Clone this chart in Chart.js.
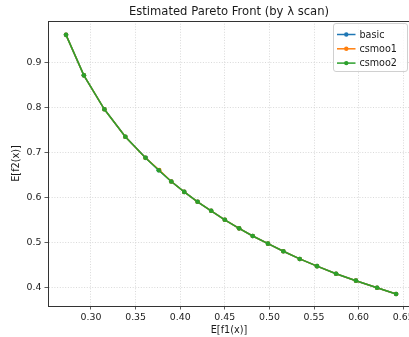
<!DOCTYPE html>
<html>
<head>
<meta charset="utf-8">
<script src="https://cdn.jsdelivr.net/npm/chart.js@4"></script>
<style>
  html, body { margin: 0; padding: 0; overflow: hidden; background: #fff; }
  #wrap { width: 409px; height: 337px; overflow: hidden; }
</style>
</head>
<body>
<div id="wrap"><canvas id="c" width="420" height="337"></canvas></div>
<script>
// ---- data ----
const seriesNames = ["basic", "csmoo1", "csmoo2"];
const seriesColors = ["#1f77b4", "#ff7f0e", "#2ca02c"];

const basicX  = [0.272, 0.292, 0.315, 0.3385, 0.3615, 0.376, 0.390, 0.4045, 0.4195, 0.4347, 0.450, 0.466, 0.4813, 0.4984, 0.5156, 0.534, 0.5534, 0.5747, 0.597, 0.6207, 0.642];
const basicY  = [0.961, 0.871, 0.7956, 0.7347, 0.6875, 0.660, 0.635, 0.612, 0.590, 0.570, 0.550, 0.531, 0.514, 0.497, 0.480, 0.463, 0.447, 0.430, 0.4147, 0.399, 0.385];
const csmoo1X = [0.272, 0.292, 0.315, 0.3385, 0.361, 0.3765, 0.390, 0.4045, 0.4195, 0.4347, 0.450, 0.466, 0.4813, 0.4984, 0.5156, 0.534, 0.5534, 0.5747, 0.597, 0.6207, 0.642];
const csmoo1Y = [0.961, 0.871, 0.7956, 0.7347, 0.688, 0.6605, 0.635, 0.612, 0.590, 0.570, 0.550, 0.531, 0.514, 0.497, 0.480, 0.463, 0.447, 0.430, 0.4147, 0.399, 0.385];
const csmoo2X = [0.272, 0.292, 0.315, 0.3385, 0.361, 0.376, 0.390, 0.4045, 0.4195, 0.4347, 0.450, 0.466, 0.4813, 0.4984, 0.5156, 0.534, 0.5534, 0.5747, 0.597, 0.6207, 0.642];
const csmoo2Y = [0.961, 0.871, 0.7956, 0.7347, 0.688, 0.660, 0.635, 0.612, 0.590, 0.570, 0.550, 0.531, 0.514, 0.497, 0.480, 0.463, 0.447, 0.430, 0.4147, 0.399, 0.385];

const xTicks = [0.30, 0.35, 0.40, 0.45, 0.50, 0.55, 0.60, 0.65];
const yTicks = [0.4, 0.5, 0.6, 0.7, 0.8, 0.9];

const titleText = "Estimated Pareto Front (by λ scan)";
const xLabel = "E[f1(x)]";
const yLabel = "E[f2(x)]";

// ---- build chart ----
const FONT = "'DejaVu Sans', sans-serif";
const TXT = "#1a1a1a";

function pts(xs, ys) { return xs.map((x, i) => ({ x: x, y: ys[i] })); }
const allX = [basicX, csmoo1X, csmoo2X];
const allY = [basicY, csmoo1Y, csmoo2Y];

const datasets = seriesNames.map((name, i) => ({
  label: name,
  data: pts(allX[i], allY[i]),
  showLine: true,
  borderColor: seriesColors[i],
  backgroundColor: seriesColors[i],
  borderWidth: 1.5,
  pointRadius: 2.3,
  pointBorderWidth: 0,
  pointHoverRadius: 2.3,
  order: 2 - i
}));

const frameTitleLegend = {
  id: 'frameTitleLegend',
  afterDraw(chart) {
    const ctx = chart.ctx;
    const a = chart.chartArea;
    ctx.save();
    // frame (spines)
    ctx.strokeStyle = "#333";
    ctx.lineWidth = 1;
    ctx.setLineDash([]);
    ctx.strokeRect(Math.round(a.left) + 0.5, Math.round(a.top) + 0.5, Math.round(a.right - a.left), Math.round(a.bottom - a.top));
    // title, centred on the plot area
    ctx.fillStyle = TXT;
    ctx.font = "11.6px " + FONT;
    ctx.textAlign = "center";
    ctx.textBaseline = "middle";
    ctx.fillText(titleText, (a.left + a.right) / 2, 12);
    // legend
    const bx = 333.5, by = 23.5, bw = 74, bh = 48, r = 2.5;
    ctx.globalAlpha = 0.8;
    ctx.fillStyle = "#fff";
    ctx.beginPath();
    ctx.roundRect(bx, by, bw, bh, r);
    ctx.fill();
    ctx.globalAlpha = 1;
    ctx.strokeStyle = "#d0d0d0";
    ctx.lineWidth = 1;
    ctx.stroke();
    ctx.font = "9.6px " + FONT;
    ctx.textBaseline = "middle";
    ctx.textAlign = "left";
    seriesNames.forEach((name, i) => {
      const yy = 34.5 + i * 14.3;
      ctx.strokeStyle = seriesColors[i];
      ctx.lineWidth = 1.5;
      ctx.beginPath();
      ctx.moveTo(337, yy);
      ctx.lineTo(355.5, yy);
      ctx.stroke();
      ctx.fillStyle = seriesColors[i];
      ctx.beginPath();
      ctx.arc(346.3, yy, 2.2, 0, Math.PI * 2);
      ctx.fill();
      ctx.fillStyle = TXT;
      ctx.fillText(name, 359.5, yy + 0.5);
    });
    ctx.restore();
  }
};

const gridOpts = {
  color: "#cfcfcf",
  lineWidth: 0.8,
  drawTicks: true,
  tickLength: 3.5,
  tickColor: "#333",
  tickWidth: 0.8,
  tickBorderDash: []
};
const borderOpts = { display: true, color: "#333", width: 1, dash: [1, 1.7] };

new Chart(document.getElementById('c'), {
  type: 'scatter',
  data: { datasets: datasets },
  options: {
    responsive: false,
    devicePixelRatio: 1,
    animation: false,
    events: [],
    layout: { padding: { left: 0, right: 10, top: 21, bottom: 0 } },
    plugins: {
      legend: { display: false },
      tooltip: { enabled: false },
      title: { display: false }
    },
    scales: {
      x: {
        type: 'linear',
        min: 0.2518,
        max: 0.6576,
        afterBuildTicks(scale) { scale.ticks = xTicks.map(v => ({ value: v })); },
        afterFit(scale) { scale.height = 31; },
        ticks: {
          color: TXT,
          font: { family: FONT, size: 9.4 },
          padding: 2,
          maxRotation: 0,
          autoSkip: false,
          callback: v => Number(v).toFixed(2)
        },
        grid: gridOpts,
        border: borderOpts,
        title: {
          display: true,
          text: xLabel,
          color: TXT,
          font: { family: FONT, size: 9.7, lineHeight: 1.2 },
          padding: { top: 0, bottom: 1.2 }
        }
      },
      y: {
        type: 'linear',
        min: 0.3584,
        max: 0.9918,
        afterBuildTicks(scale) { scale.ticks = yTicks.map(v => ({ value: v })); },
        afterFit(scale) { scale.width = 48; },
        ticks: {
          color: TXT,
          font: { family: FONT, size: 9.4 },
          padding: 3,
          autoSkip: false,
          callback: v => Number(v).toFixed(1)
        },
        grid: gridOpts,
        border: borderOpts,
        title: {
          display: true,
          text: yLabel,
          color: TXT,
          font: { family: FONT, size: 9.7, lineHeight: 1.2 },
          padding: { top: 10.2, bottom: 0 }
        }
      }
    }
  },
  plugins: [frameTitleLegend]
});
</script>
</body>
</html>
